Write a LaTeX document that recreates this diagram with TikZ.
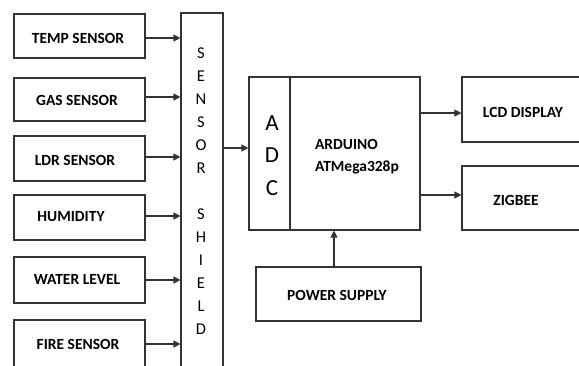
\documentclass[tikz,border=0pt]{standalone}
\usepackage{fontspec}
\setmainfont{Carlito}
\usetikzlibrary{arrows.meta}
\definecolor{ln}{HTML}{333333}
\tikzset{
  blk/.style={draw=ln, line width=1.1pt, rectangle, inner sep=0pt},
  lbl/.style={font=\fontsize{15.5}{15.5}\selectfont\bfseries, inner sep=0pt, text=black},
  arr/.style={draw=ln, line width=1.1pt, -{Triangle[length=7pt,width=7pt]}},
}
\begin{document}
\begin{tikzpicture}[x=1pt,y=-1pt]
\useasboundingbox (0,0) rectangle (579,365);
% sensors
\node[blk, minimum width=131pt, minimum height=44pt] (temp) at (79.5,36) {};
\node[blk, minimum width=131pt, minimum height=43pt] (gas) at (79.5,99.5) {};
\node[blk, minimum width=131pt, minimum height=45pt] (ldr) at (79.5,158.5) {};
\node[blk, minimum width=131pt, minimum height=45pt] (hum) at (79.5,217.5) {};
\node[blk, minimum width=131pt, minimum height=46pt] (wat) at (79.5,280) {};
\node[blk, minimum width=131pt, minimum height=50pt] (fire) at (79.5,345) {};
\node[lbl] (tempt) at (78,38) {TEMP SENSOR};
\node[lbl] (gast) at (77,100) {GAS SENSOR};
\node[lbl] (ldrt) at (75,160) {LDR SENSOR};
\node[lbl] (humt) at (71,217) {HUMIDITY};
\node[lbl] (watt) at (77,279) {WATER LEVEL};
\node[lbl] (firet) at (78,344) {FIRE SENSOR};
% shield
\node[blk, minimum width=42pt, minimum height=360pt] (shield) at (202,193) {};
\node[font=\fontsize{16.5}{23}\selectfont, align=center, inner sep=0pt] (shieldt) at (201,191.5)
  {S\\E\\N\\S\\O\\R\\[23pt]S\\H\\I\\E\\L\\D};
% arduino
\node[blk, minimum width=41pt, minimum height=153pt] (adc) at (269.5,153.5) {};
\node[blk, minimum width=130pt, minimum height=153pt] (ard) at (355,153.5) {};
\node[font=\fontsize{23}{32.5}\selectfont, align=center, inner sep=0pt] (adct) at (272,155.5) {A\\D\\C};
\node[lbl, align=left, font=\fontsize{15.5}{22}\selectfont\bfseries] (ardt) at (357,157) {ARDUINO\\ATMega328p};
% outputs
\node[blk, minimum width=128pt, minimum height=65pt] (lcd) at (526,109.5) {};
\node[blk, minimum width=128pt, minimum height=64pt] (zig) at (526,198) {};
\node[lbl] (lcdt) at (523,112) {LCD DISPLAY};
\node[lbl] (zigt) at (516,200) {ZIGBEE};
% power
\node[blk, minimum width=165pt, minimum height=54pt] (pwr) at (338.5,294) {};
\node[lbl] (pwrt) at (337,295) {POWER SUPPLY};
% connectors
\foreach \s/\yy in {temp/38, gas/97, ldr/157, hum/216, wat/280, fire/344}{
  \draw[arr] (\s.east |- 0,\yy) -- (shield.west |- 0,\yy);
}
\draw[arr] (shield.east |- 0,148) -- (adc.west |- 0,148);
\draw[arr] (ard.east |- 0,113) -- (lcd.west |- 0,113);
\draw[arr] (ard.east |- 0,195) -- (zig.west |- 0,195);
\draw[arr] (pwr.north -| 334,0) -- (ard.south -| 334,0);
\end{tikzpicture}
\end{document}
